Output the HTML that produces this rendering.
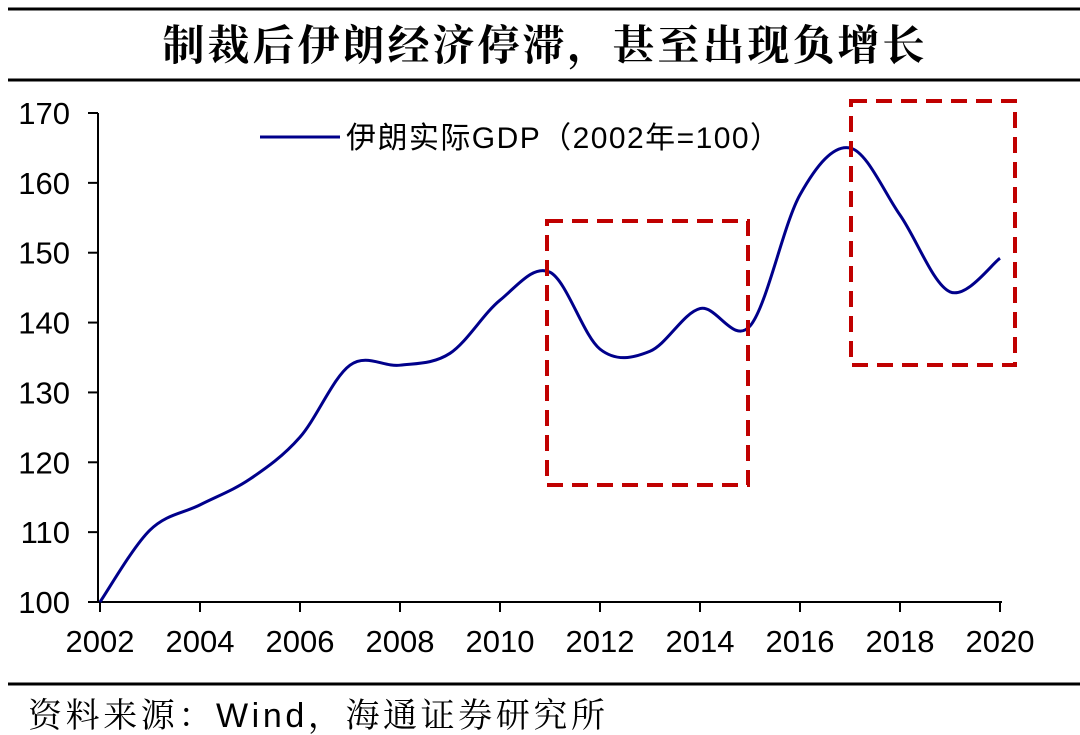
<!DOCTYPE html>
<html><head><meta charset="utf-8"><style>
body{margin:0;background:#fff;width:1080px;height:735px;overflow:hidden;}
svg{display:block;font-family:"Liberation Sans","Noto Sans CJK SC",sans-serif;}
</style></head><body>
<svg id="c" width="1080" height="735">
<line x1="8" y1="9" x2="1080" y2="9" stroke="#000" stroke-width="3"/>
<line x1="8" y1="80" x2="1080" y2="80" stroke="#000" stroke-width="3"/>
<text x="545" y="60" text-anchor="middle" font-size="42" font-weight="bold" font-family="'Noto Serif CJK SC','Noto Sans CJK SC',serif" letter-spacing="3">制裁后伊朗经济停滞，甚至出现负增长</text>
<line x1="8" y1="684" x2="1080" y2="684" stroke="#000" stroke-width="3"/>
<text x="28" y="727" font-size="34" textLength="577" font-family="'Liberation Sans','Noto Serif CJK SC',sans-serif">资料来源：Wind，海通证券研究所</text>
<g id="axes"></g>
<g id="plot"></g>
<rect x="547" y="221" width="201" height="264" fill="none" stroke="#c00000" stroke-width="4" stroke-dasharray="16,9"/>
<rect x="851" y="101" width="164" height="264" fill="none" stroke="#c00000" stroke-width="4" stroke-dasharray="16,9"/>
<line x1="260" y1="137" x2="340" y2="137" stroke="#00008b" stroke-width="3"/>
<text x="346" y="148" font-size="30" textLength="434">伊朗实际GDP（2002年=100）</text>
</svg>
<script>
const years=[2002,2003,2004,2005,2006,2007,2008,2009,2010,2011,2012,2013,2014,2015,2016,2017,2018,2019,2020];
const gdp=[100,110.3,113.9,117.6,123.6,133.9,133.9,135.6,143.2,147.2,136.2,135.9,142,139.5,158.3,165,155.4,144.4,149.2];
const yTicks=[100,110,120,130,140,150,160,170];
const xTicks=[2002,2004,2006,2008,2010,2012,2014,2016,2018,2020];
const X=v=>100+(v-2002)*50;
const Y=v=>602-(v-100)*(489/70);
const NS="http://www.w3.org/2000/svg";
const ax=document.getElementById('axes'),pl=document.getElementById('plot');
function mk(tag,at,parent,txt){const e=document.createElementNS(NS,tag);for(const k in at)e.setAttribute(k,at[k]);if(txt!==undefined)e.textContent=txt;parent.appendChild(e);return e;}
let e=mk('line',{x1:98,y1:Y(170),x2:98,y2:602,stroke:'#000','stroke-width':2},ax);


e=mk('line',{x1:88,y1:602,x2:1002,y2:602,stroke:'#000','stroke-width':2},ax);


yTicks.forEach(t=>{
 let l=mk('line',{x1:88,y1:Y(t),x2:98,y2:Y(t),stroke:'#000','stroke-width':2},ax);
 
 
 let s=mk('text',{x:70,y:Y(t)+11,'text-anchor':'end','font-size':31},ax,String(t));
 
 
});
xTicks.forEach(t=>{
 let l=mk('line',{x1:X(t),y1:602,x2:X(t),y2:612,stroke:'#000','stroke-width':2},ax);
 
 
 let s=mk('text',{x:X(t),y:652,'text-anchor':'middle','font-size':31},ax,String(t));
 
 
});
const pts=years.map((y,i)=>[X(y),Y(gdp[i])]);
let d='M'+pts[0][0]+','+pts[0][1];
for(let i=0;i<pts.length-1;i++){
 const p0=pts[i-1]||pts[i],p1=pts[i],p2=pts[i+1],p3=pts[i+2]||p2;
 const c1=[p1[0]+(p2[0]-p0[0])/6,p1[1]+(p2[1]-p0[1])/6];
 const c2=[p2[0]-(p3[0]-p1[0])/6,p2[1]-(p3[1]-p1[1])/6];
 d+=' C'+c1+' '+c2+' '+p2;
}
e=mk('path',{d:d,fill:'none',stroke:'#00008b','stroke-width':3},pl);


</script>
</body></html>
